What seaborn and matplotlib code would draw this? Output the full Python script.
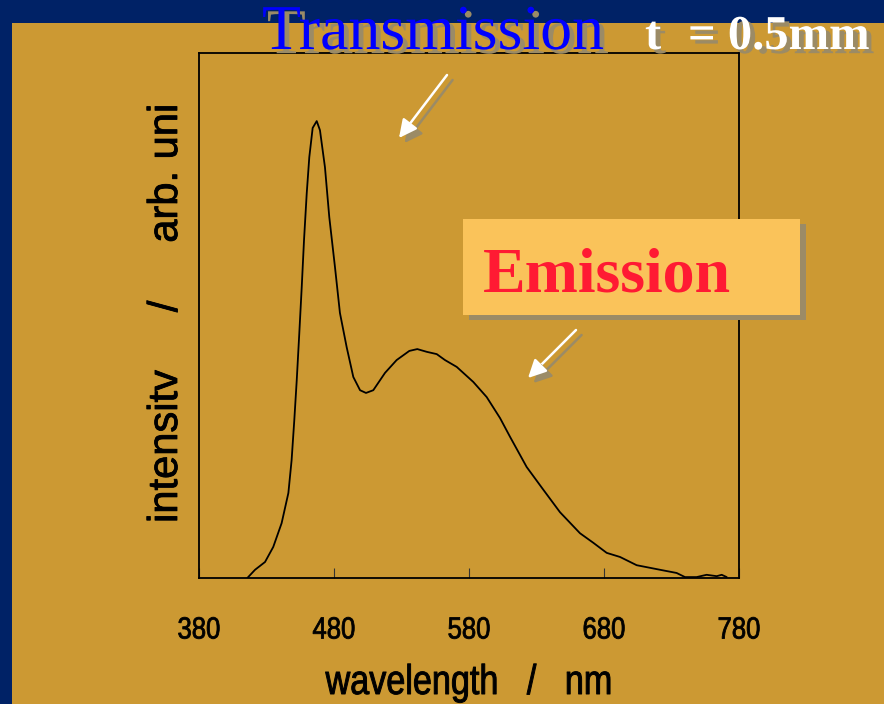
import matplotlib
matplotlib.use("Agg")
import matplotlib.pyplot as plt
import matplotlib.patheffects as pe
from matplotlib.patches import Rectangle
from matplotlib.transforms import Affine2D
import seaborn as sns

# espectro (comprimento de onda em nm, intensidade relativa)
wavelength = [415.8, 421.5, 428.9, 435.0, 441.2, 446.2, 448.6, 450.6, 452.4, 454.3,
              456.1, 457.8, 459.8, 461.7, 464.2, 467.2, 469.6, 473.3, 476.5, 480.7,
              484.4, 489.4, 494.3, 499.3, 503.7, 509.1, 517.8, 526.4, 535.8, 541.7,
              548.7, 556.1, 562.2, 570.9, 583.2, 593.1, 603.0, 610.4, 622.7, 635.1,
              647.4, 662.2, 672.1, 682.0, 691.9, 704.2, 721.5, 733.8, 740.0, 748.6,
              756.0, 763.5, 767.2, 770.9]
intensity = [0.000, 0.018, 0.035, 0.068, 0.120, 0.186, 0.258, 0.346, 0.433, 0.536,
             0.637, 0.740, 0.842, 0.921, 0.985, 1.000, 0.980, 0.899, 0.790, 0.681,
             0.580, 0.505, 0.440, 0.411, 0.405, 0.411, 0.449, 0.477, 0.497, 0.501,
             0.495, 0.490, 0.477, 0.462, 0.429, 0.396, 0.350, 0.309, 0.243, 0.193,
             0.144, 0.098, 0.077, 0.055, 0.046, 0.028, 0.018, 0.011, 0.002, 0.002,
             0.007, 0.004, 0.007, 0.002]
x_ticks = [380, 480, 580, 680, 780]
x_range = (380, 780)
y_range = (0, 1.149)

GOLD = "#cc9933"
NAVY = "#002266"
SHADOW = "#9b8b66"


class Squeeze(pe.AbstractPathEffect):
    """Comprime o texto na horizontal (fonte 'narrow') e engrossa o traço."""
    def __init__(self, sx, lw=0.0):
        super().__init__()
        self.sx = sx
        self.lw = lw

    def draw_path(self, renderer, gc, tpath, affine, rgbFace=None):
        ext = tpath.get_extents(affine)
        cx = (ext.x0 + ext.x1) / 2
        t = affine + Affine2D().translate(-cx, 0).scale(self.sx, 1).translate(cx, 0)
        gc0 = renderer.new_gc()
        gc0.copy_properties(gc)
        if self.lw > 0 and rgbFace is not None:
            gc0.set_foreground(rgbFace)
            gc0.set_linewidth(self.lw)
        renderer.draw_path(gc0, tpath, t, rgbFace)
        gc0.restore()


sns.set_theme(style="ticks")
plt.rcParams["font.family"] = ["Liberation Sans", "DejaVu Sans"]

fig = plt.figure(figsize=(8.84, 7.04), dpi=100, facecolor=GOLD)
W, H = 884, 704

# moldura azul (topo e esquerda)
fig.patches.append(Rectangle((0, 1 - 23 / H), 1, 23 / H, transform=fig.transFigure,
                             facecolor=NAVY, edgecolor="none", zorder=0))
fig.patches.append(Rectangle((0, 0), 12 / W, 1, transform=fig.transFigure,
                             facecolor=NAVY, edgecolor="none", zorder=0))

ax = fig.add_axes([199 / W, 1 - 578 / H, 540 / W, 525 / H])
ax.set_facecolor(GOLD)
sns.lineplot(x=wavelength, y=intensity, color="black", lw=1.3, ax=ax)
ax.set_xlim(*x_range)
ax.set_ylim(*y_range)
ax.set_xticks(x_ticks)
ax.set_yticks([])
for sp in ax.spines.values():
    sp.set_color("black")
    sp.set_linewidth(1.3)
ax.tick_params(axis="x", direction="in", length=7, width=0.8, color="#333333",
               pad=27, labelsize=22, labelcolor="black")
for lbl in ax.get_xticklabels():
    lbl.set_path_effects([Squeeze(0.84, 0.6)])

ax.set_xlabel("wavelength   /   nm", fontsize=30, color="black")
ax.xaxis.label.set_va("baseline")
ax.xaxis.set_label_coords(0.5, (578 - 694) / 525)
ax.xaxis.label.set_path_effects([Squeeze(0.82, 0.7)])

ax.set_ylabel("intensitv     /     arb. uni", fontsize=30, color="black",
              path_effects=[pe.withStroke(linewidth=0.6, foreground="black")])
ax.yaxis.label.set_va("baseline")
ax.yaxis.set_label_coords((177 - 199) / 540, (578 - 313.5) / 525)

shadow_txt = [pe.SimplePatchShadow(offset=(3.5, -3), shadow_rgbFace=SHADOW, alpha=1.0),
              pe.Normal()]

fig.text(262 / W, 1 - 49 / H, "Transmission", family="Liberation Serif", fontsize=46,
         color="#0000ff", ha="left", va="baseline", path_effects=shadow_txt)
fig.text(645 / W, 1 - 49 / H, "t", family="Liberation Serif", fontsize=35,
         weight="bold", color="white", ha="left", va="baseline", path_effects=shadow_txt)
fig.text(688 / W, 1 - 49 / H, "= 0.5mm", family="Liberation Serif", fontsize=35,
         weight="bold", color="white", ha="left", va="baseline", path_effects=shadow_txt)

# caixa "Emission"
box = Rectangle((463 / W, 1 - 315 / H), 337 / W, 96 / H, transform=fig.transFigure,
                facecolor="#fac35a", edgecolor="none", zorder=3,
                path_effects=[pe.SimplePatchShadow(offset=(4.3, -3.6),
                                                   shadow_rgbFace=SHADOW, alpha=1.0),
                              pe.Normal()])
fig.patches.append(box)
fig.text(483 / W, 1 - 291 / H, "Emission", family="Liberation Serif", fontsize=46,
         weight="bold", color="#ff1a33", ha="left", va="baseline", zorder=4)

# setas brancas com sombra
arrow_fx = [pe.SimpleLineShadow(offset=(4, -3.6), shadow_color=SHADOW, alpha=1.0),
            pe.SimplePatchShadow(offset=(4, -3.6), shadow_rgbFace=SHADOW, alpha=1.0),
            pe.Normal()]
for tail, tip in [((447, 75), (399, 138)), ((576, 330), (528, 378))]:
    ax.annotate("", xy=(tip[0] / W, 1 - tip[1] / H), xycoords="figure fraction",
                xytext=(tail[0] / W, 1 - tail[1] / H), textcoords="figure fraction",
                arrowprops=dict(arrowstyle="-|>,head_length=0.9,head_width=0.45",
                                color="white", lw=1.8, shrinkA=0, shrinkB=0,
                                path_effects=arrow_fx))

fig.savefig("out.png", dpi=100, facecolor=GOLD)
